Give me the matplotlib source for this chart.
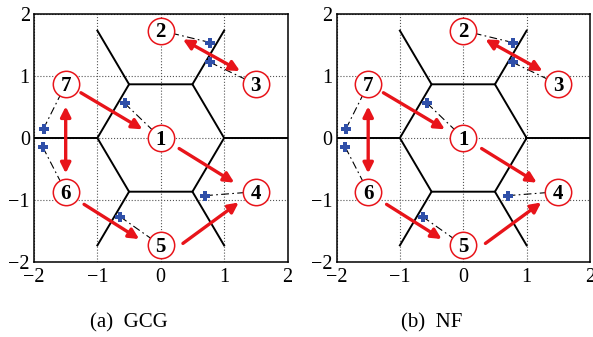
import numpy as np
import matplotlib
matplotlib.use('Agg')
import matplotlib.pyplot as plt
from matplotlib import font_manager as fm

# pick a Times-like serif that is actually installed
names = {f.name for f in fm.fontManager.ttflist}
serif = [n for n in ['Liberation Serif', 'Times New Roman', 'Nimbus Roman',
                     'DejaVu Serif'] if n in names]
plt.rcParams['font.family'] = 'serif'
plt.rcParams['font.serif'] = serif + ['DejaVu Serif']
plt.rcParams['axes.unicode_minus'] = True

S3 = np.sqrt(3)

# cell centres (labels 1..7)
CELL_X = [0.0, 0.0, 1.5, 1.5, 0.0, -1.5, -1.5]
CELL_Y = [0.0, S3, S3 / 2, -S3 / 2, -S3, -S3 / 2, S3 / 2]
CELL_LBL = ['1', '2', '3', '4', '5', '6', '7']

# user positions (blue +), each linked to cell with same index
USER_X = [-0.57, 0.78, 0.78, 0.70, -0.64, -1.86, -1.85]
USER_Y = [0.56, 1.54, 1.22, -0.93, -1.27, -0.15, 0.15]

# red arrows: start -> end, and whether double headed
ARR_X0 = [-1.26, 0.29, 0.35, -1.21, -1.50, 0.35]
ARR_Y0 = [0.73, -0.17, -1.70, -1.07, 0.51, 1.59]
ARR_X1 = [-0.29, 1.16, 1.23, -0.34, -1.50, 1.25]
ARR_Y1 = [0.14, -0.72, -1.04, -1.63, -0.57, 1.08]
ARR_DBL = [False, False, False, False, True, True]

# hexagonal cell borders
hx = [1, 0.5, -0.5, -1, -0.5, 0.5, 1]
hy = [0, S3 / 2, S3 / 2, 0, -S3 / 2, -S3 / 2, 0]
SPOKES = [((1, 0), (2, 0)), ((-1, 0), (-2, 0)),
          ((0.5, S3 / 2), (1, S3)), ((-0.5, S3 / 2), (-1, S3)),
          ((0.5, -S3 / 2), (1, -S3)), ((-0.5, -S3 / 2), (-1, -S3))]

TICKS = [-2, -1, 0, 1, 2]
TICK_LBL = ['\u22122', '\u22121', '0', '1', '2']
CAPTIONS = ['(a)  GCG', '(b)  NF']

fig = plt.figure(figsize=(5.93, 3.37), dpi=100)
lefts = [34 / 593, 336.5 / 593]
cap_x = [129 / 593, 432 / 593]

for k in range(2):
    ax = fig.add_axes([lefts[k], 75 / 337, 253.5 / 593, 248 / 337])
    ax.set_xlim(-2, 2)
    ax.set_ylim(-2, 2)
    ax.set_xticks(TICKS)
    ax.set_yticks(TICKS)
    ax.set_xticklabels(TICK_LBL)
    ax.set_yticklabels(TICK_LBL)
    ax.tick_params(labelsize=14.5, length=0)
    ax.tick_params(axis='x', pad=4)
    ax.tick_params(axis='y', pad=3)
    ax.grid(True, ls=':', color='#555555', lw=0.8)
    for sp in ax.spines.values():
        sp.set_linewidth(1.1)

    ax.plot(hx, hy, color='black', lw=1.4, zorder=2)
    for (a, b) in SPOKES:
        ax.plot([a[0], b[0]], [a[1], b[1]], color='black', lw=1.4, zorder=2)

    # user -> serving cell links
    for i in range(len(USER_X)):
        ax.plot([USER_X[i], CELL_X[i]], [USER_Y[i], CELL_Y[i]],
                color='black', ls=(0, (7, 3, 1.5, 3)), lw=0.8, zorder=3)
    ax.plot(USER_X, USER_Y, ls='none', marker='P', color='#2f4fa8',
            ms=7.5, mew=0, zorder=5)

    ax.plot(CELL_X, CELL_Y, ls='none', marker='o', ms=19, mfc='white',
            mec='#e8141a', mew=1.1, zorder=4)
    for x, y, t in zip(CELL_X, CELL_Y, CELL_LBL):
        ax.text(x, y - 0.03, t, ha='center', va='center', fontsize=15,
                fontweight='bold', zorder=6)

    for x0, y0, x1, y1, d in zip(ARR_X0, ARR_Y0, ARR_X1, ARR_Y1, ARR_DBL):
        ax.annotate('', xy=(x1, y1), xytext=(x0, y0),
                    arrowprops=dict(arrowstyle='<|-|>' if d else '-|>',
                                    color='#e8141a', lw=2.4,
                                    mutation_scale=15,
                                    shrinkA=0, shrinkB=0), zorder=7)

    fig.text(cap_x[k], 1 - 323 / 337, CAPTIONS[k],
             ha='center', va='center', fontsize=15)

fig.savefig('out.png', dpi=100)
